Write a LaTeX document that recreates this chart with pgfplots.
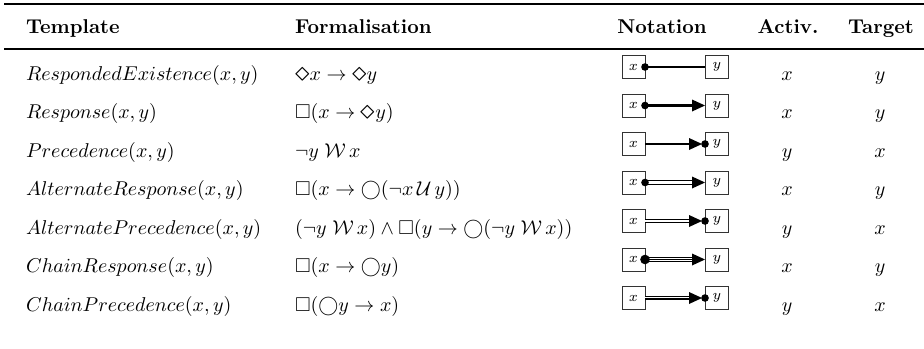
\documentclass[border=0pt]{standalone}
\usepackage{amsmath}
\usepackage{amssymb}
\usepackage{graphicx}
\usepackage{pgfplots}
\pgfplotsset{compat=1.18}

\newcommand{\dia}{\mathord{\vcenter{\hbox{\scalebox{1.45}{$\diamond$}}}}}

% pixel grid of the table: x 0..924, y 0..348 (downwards)
\tikzset{
  bx/.style={draw=black!80, line width=0.45pt, minimum size=11.5pt, inner sep=0pt, font=\scriptsize},
  one/.style={line width=1.1pt},
  two/.style={double, double distance=1.3pt, line width=0.5pt},
  three/.style={line width=0.5pt},
}

\begin{document}
\begin{tikzpicture}
\begin{axis}[
    width=462pt, height=174pt, scale only axis,
    xmin=0, xmax=924, ymin=0, ymax=348, y dir=reverse,
    hide axis, clip=false,
]
\coordinate (BL) at (0,348);
\coordinate (TR) at (924,0);
% rules
\addplot[black, line width=0.9pt] coordinates {(4,4) (924,4)};
\addplot[black, line width=0.55pt] coordinates {(4,49) (924,49)};

% header
\node[anchor=base west, font=\bfseries] at (19,33) {Template};
\node[anchor=base west, font=\bfseries] at (288,33) {Formalisation};
\node[anchor=base, font=\bfseries] at (662,33) {Notation};
\node[anchor=base, font=\bfseries] at (788,33) {Activ.};
\node[anchor=base, font=\bfseries] at (881,33) {Target};

% templates
\node[anchor=base west] at (19,80) {$RespondedExistence(x,y)$};
\node[anchor=base west] at (19,118.5) {$Response(x,y)$};
\node[anchor=base west] at (19,157) {$Precedence(x,y)$};
\node[anchor=base west] at (19,195.5) {$AlternateResponse(x,y)$};
\node[anchor=base west] at (19,234) {$AlternatePrecedence(x,y)$};
\node[anchor=base west] at (19,272.5) {$ChainResponse(x,y)$};
\node[anchor=base west] at (19,311) {$ChainPrecedence(x,y)$};

% formalisations
\node[anchor=base west] at (288,80) {$\dia x \rightarrow \dia y$};
\node[anchor=base west] at (288,118.5) {$\Box(x \rightarrow \dia y)$};
\node[anchor=base west] at (288,157) {$\neg y\;\mathcal{W}\,x$};
\node[anchor=base west] at (288,195.5) {$\Box(x \rightarrow \mathord{\bigcirc}(\neg x\,\mathcal{U}\,y))$};
\node[anchor=base west] at (288,234) {$(\neg y\;\mathcal{W}\,x) \wedge \Box(y \rightarrow \mathord{\bigcirc}(\neg y\;\mathcal{W}\,x))$};
\node[anchor=base west] at (288,272.5) {$\Box(x \rightarrow \mathord{\bigcirc} y)$};
\node[anchor=base west] at (288,311) {$\Box(\mathord{\bigcirc} y \rightarrow x)$};

% activation / target
\node[anchor=base] at (787,80) {$x$};    \node[anchor=base] at (880,80) {$y$};
\node[anchor=base] at (787,118.5) {$x$}; \node[anchor=base] at (880,118.5) {$y$};
\node[anchor=base] at (787,157) {$y$};   \node[anchor=base] at (880,157) {$x$};
\node[anchor=base] at (787,195.5) {$x$}; \node[anchor=base] at (880,195.5) {$y$};
\node[anchor=base] at (787,234) {$y$};   \node[anchor=base] at (880,234) {$x$};
\node[anchor=base] at (787,272.5) {$x$}; \node[anchor=base] at (880,272.5) {$y$};
\node[anchor=base] at (787,311) {$y$};   \node[anchor=base] at (880,311) {$x$};

% notation: boxes
\node[bx] at (633.5,67) {$x$};   \node[bx] at (717,67) {$y$};
\node[bx] at (633.5,105.5) {$x$}; \node[bx] at (717,105.5) {$y$};
\node[bx] at (633.5,144) {$x$};   \node[bx] at (717,144) {$y$};
\node[bx] at (633.5,182.5) {$x$}; \node[bx] at (717,182.5) {$y$};
\node[bx] at (633.5,221) {$x$};   \node[bx] at (717,221) {$y$};
\node[bx] at (633.5,259.5) {$x$}; \node[bx] at (717,259.5) {$y$};
\node[bx] at (633.5,298) {$x$};   \node[bx] at (717,298) {$y$};

% responded existence
\draw[one] (645,67) -- (705,67);
\fill (645,67) circle[radius=1.9pt];
% response
\draw[one] (645,105.5) -- (693,105.5);
\fill (645,105.5) circle[radius=1.9pt];
\fill (692,99.5) -- (705,105.5) -- (692,111.5) -- cycle;
% precedence
\draw[one] (645,144) -- (690,144);
\fill (689,138) -- (702,144) -- (689,150) -- cycle;
\fill (705,144) circle[radius=1.9pt];
% alternate response
\draw[two] (645,182.5) -- (693,182.5);
\fill (645,182.5) circle[radius=1.9pt];
\fill (692,176.5) -- (705,182.5) -- (692,188.5) -- cycle;
% alternate precedence
\draw[two] (645,221) -- (690,221);
\fill (689,215) -- (702,221) -- (689,227) -- cycle;
\fill (705,221) circle[radius=1.9pt];
% chain response
\draw[two] (645,259.5) -- (693,259.5);
\draw[three] (645,259.5) -- (693,259.5);
\fill (645,259.5) circle[radius=2.4pt];
\fill (692,253.5) -- (705,259.5) -- (692,265.5) -- cycle;
% chain precedence
\draw[two] (645,298) -- (690,298);
\draw[three] (645,298) -- (690,298);
\fill (689,292) -- (702,298) -- (689,304) -- cycle;
\fill (705,298) circle[radius=1.9pt];
\end{axis}
\pgfresetboundingbox
\useasboundingbox (BL) rectangle (TR);
\end{tikzpicture}
\end{document}
